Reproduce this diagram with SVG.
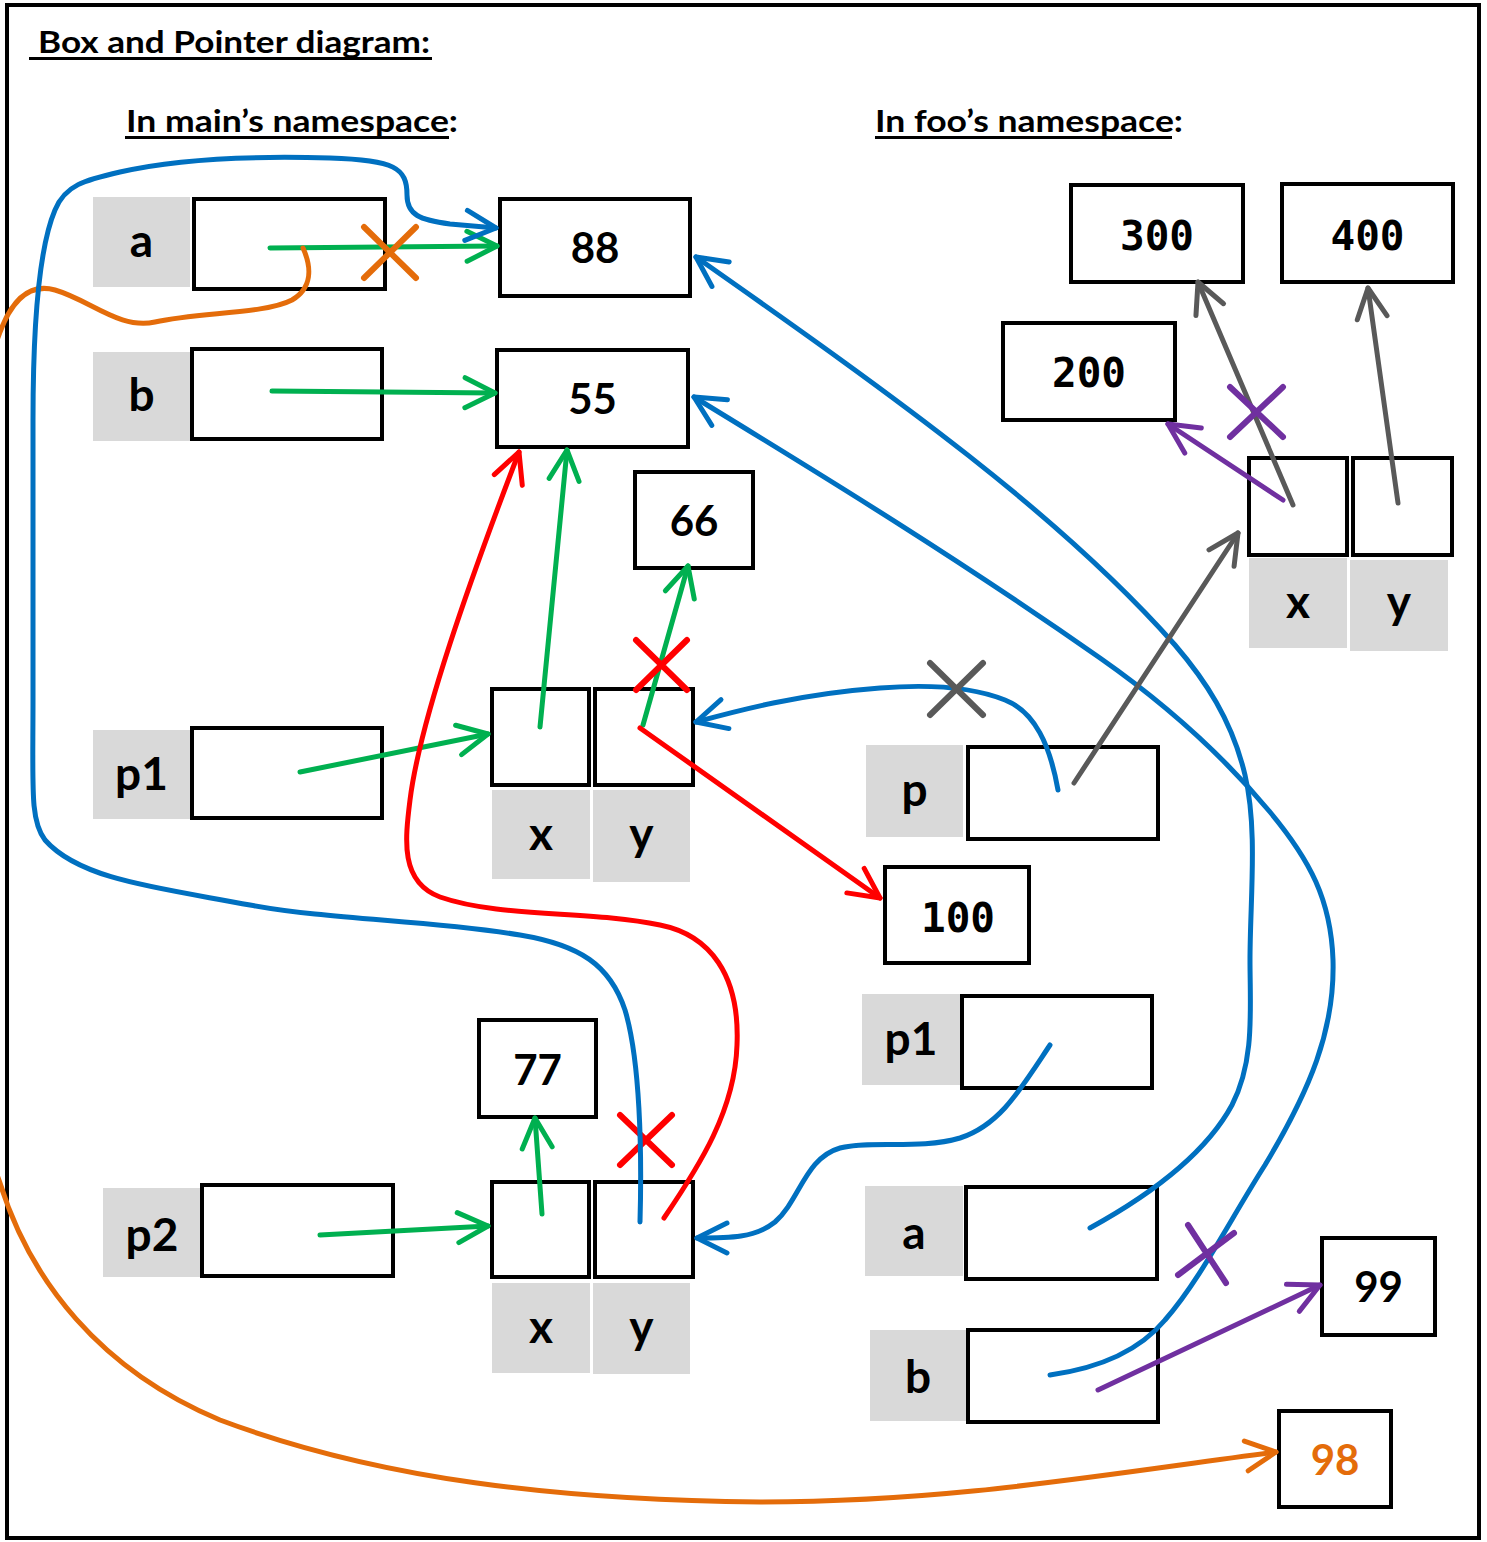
<svg xmlns="http://www.w3.org/2000/svg" width="1487" height="1542" viewBox="0 0 1487 1542">
<style>
.box{fill:#fff;stroke:#000;stroke-width:4}
.lbl{fill:#D9D9D9}
.t{font-family:Lato,"Liberation Sans",sans-serif;font-weight:bold;text-anchor:middle;fill:#000}
.num{font-size:42px}
.lab{font-size:46px}
.mono{font-family:"DejaVu Sans Mono","Liberation Mono",monospace;font-weight:bold;font-size:41px;text-anchor:middle;fill:#000}
.hd{font-family:Lato,"Liberation Sans",sans-serif;font-weight:bold;font-size:30px;fill:#000}
.ul{stroke:#000;stroke-width:3}
.c{fill:none;stroke-width:5;stroke-linecap:round;stroke-linejoin:round}
.x{fill:none;stroke-width:6;stroke-linecap:round}
.green{stroke:#00B050}.blue{stroke:#0070C0}.red{stroke:#FF0000}.orange{stroke:#E46C0A}.gray{stroke:#595959}.purple{stroke:#7030A0}
</style>
<defs>
<marker id="mg" markerUnits="userSpaceOnUse" markerWidth="40" markerHeight="40" refX="0" refY="0" orient="auto" overflow="visible"><path d="M-30,-15 L0,0 L-30,15" fill="none" stroke="#00B050" stroke-width="5" stroke-linecap="round" stroke-linejoin="round"/></marker>
<marker id="mb" markerUnits="userSpaceOnUse" markerWidth="40" markerHeight="40" refX="0" refY="0" orient="auto" overflow="visible"><path d="M-30,-15 L0,0 L-30,15" fill="none" stroke="#0070C0" stroke-width="5" stroke-linecap="round" stroke-linejoin="round"/></marker>
<marker id="mr" markerUnits="userSpaceOnUse" markerWidth="40" markerHeight="40" refX="0" refY="0" orient="auto" overflow="visible"><path d="M-30,-15 L0,0 L-30,15" fill="none" stroke="#FF0000" stroke-width="5" stroke-linecap="round" stroke-linejoin="round"/></marker>
<marker id="mo" markerUnits="userSpaceOnUse" markerWidth="40" markerHeight="40" refX="0" refY="0" orient="auto" overflow="visible"><path d="M-30,-15 L0,0 L-30,15" fill="none" stroke="#E46C0A" stroke-width="5" stroke-linecap="round" stroke-linejoin="round"/></marker>
<marker id="mk" markerUnits="userSpaceOnUse" markerWidth="40" markerHeight="40" refX="0" refY="0" orient="auto" overflow="visible"><path d="M-30,-15 L0,0 L-30,15" fill="none" stroke="#595959" stroke-width="5" stroke-linecap="round" stroke-linejoin="round"/></marker>
<marker id="mp" markerUnits="userSpaceOnUse" markerWidth="40" markerHeight="40" refX="0" refY="0" orient="auto" overflow="visible"><path d="M-30,-15 L0,0 L-30,15" fill="none" stroke="#7030A0" stroke-width="5" stroke-linecap="round" stroke-linejoin="round"/></marker>
</defs>
<rect x="0" y="0" width="1487" height="1542" fill="#fff"/>
<rect x="7" y="5" width="1472" height="1533" fill="none" stroke="#000" stroke-width="4"/>
<g id="titles">
<text class="hd" x="38" y="53" textLength="392" lengthAdjust="spacingAndGlyphs">Box and Pointer diagram:</text>
<line class="ul" x1="29" y1="58.5" x2="432" y2="58.5"/>
<text class="hd" x="126" y="132" textLength="332" lengthAdjust="spacingAndGlyphs">In main’s namespace:</text>
<line class="ul" x1="125" y1="137.5" x2="449" y2="137.5"/>
<text class="hd" x="875" y="132" textLength="308" lengthAdjust="spacingAndGlyphs">In foo’s namespace:</text>
<line class="ul" x1="875" y1="137.5" x2="1172" y2="137.5"/>
</g>
<g id="main-a"><rect class="lbl" x="93" y="197" width="97" height="90"/><text class="t lab" x="141.5" y="257">a</text><rect class="box" x="194" y="199" width="191" height="90"/></g>
<g id="val-88"><rect class="box" x="500" y="199" width="190" height="97"/><text class="t num" x="595" y="263">88</text></g>
<g id="main-b"><rect class="lbl" x="93" y="352" width="97" height="89"/><text class="t lab" x="141.5" y="411">b</text><rect class="box" x="192" y="349" width="190" height="90"/></g>
<g id="val-55"><rect class="box" x="497" y="350" width="191" height="97"/><text class="t num" x="592.5" y="414">55</text></g>
<g id="val-66"><rect class="box" x="635" y="472" width="118" height="96"/><text class="t num" x="694" y="536">66</text></g>
<g id="main-p1"><rect class="lbl" x="93" y="730" width="97" height="89"/><text class="t lab" x="141.5" y="790">p1</text><rect class="box" x="192" y="728" width="190" height="90"/></g>
<g id="struct1">
<rect class="lbl" x="492" y="790" width="98" height="89"/><text class="t lab" x="541" y="850">x</text>
<rect class="lbl" x="593" y="790" width="97" height="92"/><text class="t lab" x="641.5" y="850">y</text>
<rect class="box" x="492" y="689" width="97" height="96"/>
<rect class="box" x="595" y="689" width="98" height="96"/>
</g>
<g id="main-p2"><rect class="lbl" x="103" y="1188" width="98" height="89"/><text class="t lab" x="152" y="1251">p2</text><rect class="box" x="202" y="1185" width="191" height="91"/></g>
<g id="val-77"><rect class="box" x="479" y="1020" width="117" height="97"/><text class="t num" x="537.5" y="1085">77</text></g>
<g id="struct2">
<rect class="lbl" x="492" y="1283" width="98" height="90"/><text class="t lab" x="541" y="1343">x</text>
<rect class="lbl" x="593" y="1283" width="97" height="91"/><text class="t lab" x="641.5" y="1343">y</text>
<rect class="box" x="492" y="1182" width="97" height="95"/>
<rect class="box" x="595" y="1182" width="98" height="95"/>
</g>
<g id="val-300"><rect class="box" x="1071" y="185" width="172" height="97"/><text class="mono" x="1157" y="250">300</text></g>
<g id="val-400"><rect class="box" x="1282" y="184" width="171" height="98"/><text class="mono" x="1367.5" y="250">400</text></g>
<g id="val-200"><rect class="box" x="1003" y="323" width="172" height="97"/><text class="mono" x="1089" y="387">200</text></g>
<g id="foo-struct">
<rect class="lbl" x="1249" y="558" width="98" height="90"/><text class="t lab" x="1298" y="618">x</text>
<rect class="lbl" x="1350" y="560" width="98" height="91"/><text class="t lab" x="1399" y="618">y</text>
<rect class="box" x="1249" y="458" width="98" height="97"/>
<rect class="box" x="1353" y="458" width="99" height="97"/>
</g>
<g id="foo-p"><rect class="lbl" x="866" y="745" width="97" height="92"/><text class="t lab" x="914.5" y="806">p</text><rect class="box" x="968" y="747" width="190" height="92"/></g>
<g id="val-100"><rect class="box" x="885" y="867" width="144" height="96"/><text class="mono" x="958" y="932">100</text></g>
<g id="foo-p1"><rect class="lbl" x="862" y="994" width="98" height="91"/><text class="t lab" x="911" y="1055">p1</text><rect class="box" x="962" y="996" width="190" height="92"/></g>
<g id="foo-a"><rect class="lbl" x="865" y="1186" width="98" height="90"/><text class="t lab" x="914" y="1249">a</text><rect class="box" x="966" y="1187" width="191" height="92"/></g>
<g id="foo-b"><rect class="lbl" x="870" y="1330" width="97" height="91"/><text class="t lab" x="918" y="1393">b</text><rect class="box" x="968" y="1330" width="190" height="92"/></g>
<g id="val-99"><rect class="box" x="1322" y="1238" width="113" height="97"/><text class="t num" x="1378.5" y="1302">99</text></g>
<g id="val-98"><rect class="box" x="1279" y="1411" width="112" height="96"/><text class="t num" x="1335" y="1475" fill="#E46C0A" style="fill:#E46C0A">98</text></g>
<g id="connectors">
<path class="c green" d="M270,248 L497,246" marker-end="url(#mg)"/>
<path class="c green" d="M272,391 L495,393" marker-end="url(#mg)"/>
<path class="c green" d="M300,772 L488,734" marker-end="url(#mg)"/>
<path class="c green" d="M540,727 L567,450" marker-end="url(#mg)"/>
<path class="c green" d="M643,725 L688,566" marker-end="url(#mg)"/>
<path class="c green" d="M320,1235 L488,1226" marker-end="url(#mg)"/>
<path class="c green" d="M542,1214 L535,1118" marker-end="url(#mg)"/>
<path class="c red" d="M640,728 L880,898" marker-end="url(#mr)"/>
<path class="c red" d="M664,1218 C700,1165 735,1110 737,1045 C740,975 710,935 660,925 C590,910 500,918 440,897 C400,882 405,840 410,800 C420,720 470,580 519,452" marker-end="url(#mr)"/>
<path class="x red" d="M636,640 L687,690 M687,640 L636,690"/>
<path class="x red" d="M620,1115 L672,1165 M672,1115 L620,1165"/>
<path class="x orange" d="M364,227 L416,278 M416,227 L364,278"/>
<path class="c orange" d="M303,248 C312,268 312,288 292,300 C265,314 200,312 155,322 C120,330 90,300 55,290 C30,283 12,300 0,332 C-70,520 -70,1000 0,1183 C30,1280 100,1370 220,1420 C380,1480 560,1500 760,1502 C950,1502 1100,1475 1276,1452" marker-end="url(#mo)"/>
<path class="c blue" d="M640,1222 C642,1150 640,1060 625,1010 C610,965 580,945 520,935 C430,920 330,920 250,905 C160,888 80,880 45,840 C30,820 33,790 33,700 L33,420 C33,330 38,250 55,210 C65,185 85,180 120,172 C180,158 260,156 330,158 C395,160 407,168 407,195 C407,215 420,220 450,224 L496,228" marker-end="url(#mb)"/>
<path class="c blue" d="M1090,1228 C1150,1195 1205,1155 1232,1105 C1255,1060 1250,1010 1250,960 C1250,900 1258,830 1245,775 C1232,720 1205,680 1175,645 C1060,515 900,400 696,257" marker-end="url(#mb)"/>
<path class="c blue" d="M1050,1375 C1100,1368 1140,1350 1165,1320 C1200,1280 1230,1220 1265,1165 C1310,1090 1335,1030 1333,960 C1331,900 1310,860 1270,812 C1220,752 1160,700 1100,658 C960,560 830,480 694,397" marker-end="url(#mb)"/>
<path class="c blue" d="M1058,790 C1050,745 1035,712 1005,700 C975,688 930,684 880,688 C800,694 740,710 696,722" marker-end="url(#mb)"/>
<path class="c blue" d="M1050,1045 C1020,1090 1000,1125 960,1138 C920,1150 870,1140 840,1148 C805,1158 800,1200 775,1222 C755,1238 730,1238 697,1238" marker-end="url(#mb)"/>
<path class="x gray" d="M930,663 L983,715 M983,663 L930,715"/>
<path class="c gray" d="M1074,783 L1238,533" marker-end="url(#mk)"/>
<path class="c gray" d="M1293,505 L1198,282" marker-end="url(#mk)"/>
<path class="c gray" d="M1398,503 L1368,288" marker-end="url(#mk)"/>
<path class="c purple" d="M1283,500 L1168,424" marker-end="url(#mp)"/>
<path class="x purple" d="M1230,387 L1283,437 M1283,387 L1230,437"/>
<path class="c purple" d="M1098,1390 L1320,1285" marker-end="url(#mp)"/>
<path class="x purple" d="M1188,1225 L1226,1283 M1234,1233 L1178,1275"/>
</g>
</svg>
